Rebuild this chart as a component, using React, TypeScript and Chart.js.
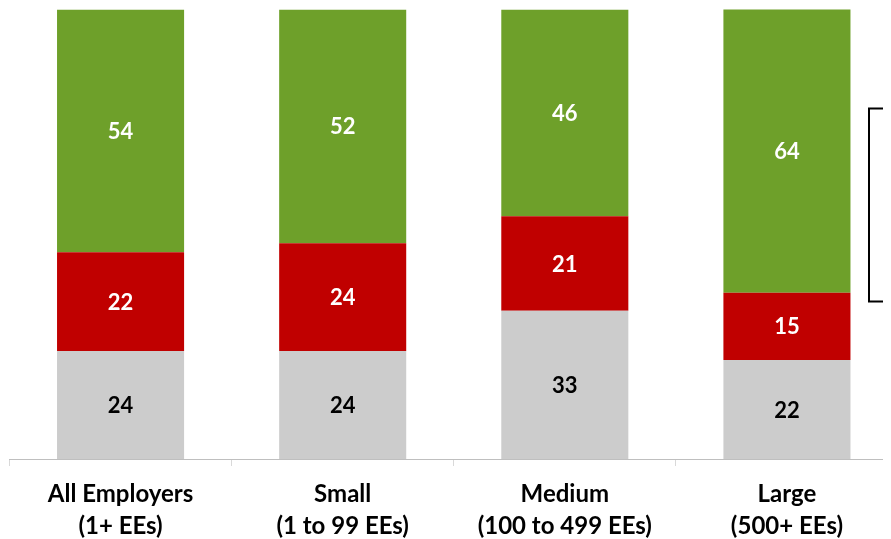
import React, { useEffect, useRef } from "react";
import { Chart, registerables } from "chart.js";

Chart.register(...registerables);

const categories: string[][] = [
  ["All Employers", "(1+ EEs)"],
  ["Small", "(1 to 99 EEs)"],
  ["Medium", "(100 to 499 EEs)"],
  ["Large", "(500+ EEs)"],
];
const grayValues = [24, 24, 33, 22];
const redValues = [22, 24, 21, 15];
const greenValues = [54, 52, 46, 64];

const FONT = "Lato, 'Open Sans', sans-serif";

const labelPlugin = {
  id: "segLabels",
  afterDatasetsDraw(chart: any) {
    const ctx = chart.ctx;
    const area = chart.chartArea;
    ctx.save();
    ctx.beginPath();
    ctx.rect(area.left, area.top, area.right - area.left, area.bottom - area.top);
    ctx.clip();
    chart.data.datasets.forEach((ds: any, di: number) => {
      const meta = chart.getDatasetMeta(di);
      meta.data.forEach((bar: any, i: number) => {
        const top = Math.max(bar.y, area.top);
        const bottom = Math.min(bar.base, area.bottom);
        const cy = (top + bottom) / 2;
        ctx.font = `bold 22px ${FONT}`;
        ctx.fillStyle = ds.labelColor;
        ctx.textAlign = "center";
        ctx.textBaseline = "middle";
        ctx.fillText(String(ds.data[i]), bar.x, cy + 1);
      });
    });
    ctx.restore();
    // partially visible legend box at the right edge
    ctx.save();
    ctx.strokeStyle = "#000000";
    ctx.lineWidth = 2;
    const x0 = area.right - 29;
    ctx.strokeRect(x0, area.top + 99, 80, 193);
    ctx.restore();
  },
};

export default function App() {
  const ref = useRef<HTMLCanvasElement | null>(null);
  useEffect(() => {
    if (!ref.current) return;
    const chart = new Chart(ref.current, {
      type: "bar",
      data: {
        labels: categories,
        datasets: [
          { label: "Gray", data: grayValues, backgroundColor: "#CCCCCC", labelColor: "#000000" } as any,
          { label: "Red", data: redValues, backgroundColor: "#C00000", labelColor: "#FFFFFF" } as any,
          { label: "Green", data: greenValues, backgroundColor: "#6EA02A", labelColor: "#FFFFFF" } as any,
        ],
      },
      options: {
        animation: false,
        responsive: false,
        maintainAspectRatio: false,
        devicePixelRatio: 1,
        layout: { padding: { left: 1.5, right: 20, top: 1.5, bottom: 0 } },
        datasets: { bar: { categoryPercentage: 1, barPercentage: 0.572 } },
        plugins: { legend: { display: false }, tooltip: { enabled: false } },
        scales: {
          x: {
            stacked: true,
            offset: true,
            grid: { display: true, offset: true, drawOnChartArea: false, tickLength: 7, color: "#D9D9D9" },
            border: { display: true, color: "#BFBFBF", width: 1 },
            ticks: {
              color: "#000000",
              padding: 13,
              maxRotation: 0,
              autoSkip: false,
              font: { family: FONT, size: 24, weight: "bold", lineHeight: "31.5px" },
            },
          },
          y: { stacked: true, display: false, min: 0, max: 100 },
        },
      },
      plugins: [labelPlugin],
    });
    return () => chart.destroy();
  }, []);
  return (
    <div style={{ width: 883, height: 531, overflow: "hidden" }}>
      <canvas ref={ref} width={910} height={547} style={{ display: "block" }} />
    </div>
  );
}
